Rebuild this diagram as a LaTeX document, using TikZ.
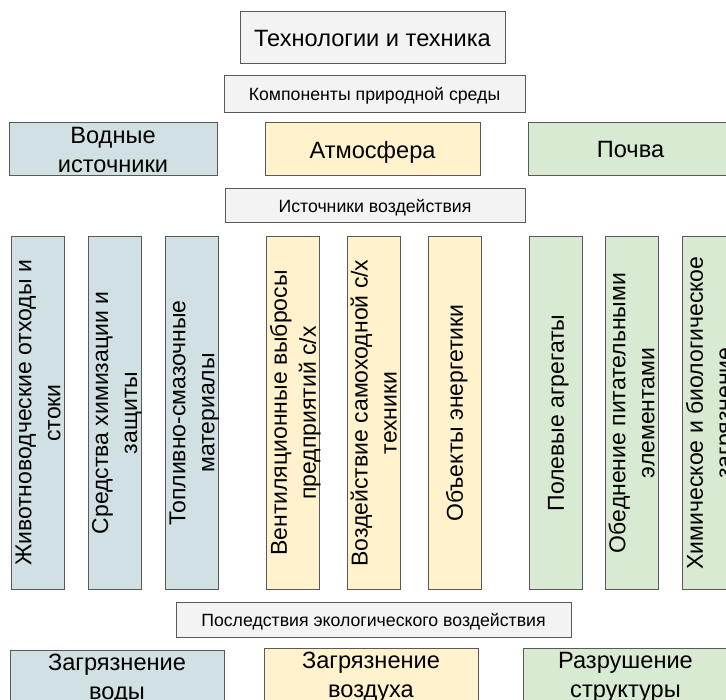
\documentclass[tikz,border=0pt]{standalone}
\usepackage{fontspec}
\setmainfont{Liberation Sans}
\usepackage{tikz}
\definecolor{edgegray}{HTML}{595959}
\definecolor{boxgray}{HTML}{F3F3F3}
\definecolor{waterblue}{HTML}{D0E0E3}
\definecolor{airyellow}{HTML}{FFF2CC}
\definecolor{soilgreen}{HTML}{D9EAD3}
\tikzstyle{bigtext} = [font=\fontsize{23.6}{29}\selectfont]
\tikzstyle{smalltext} = [font=\fontsize{17.7}{21}\selectfont]
\tikzstyle{titlebox} = [fill=boxgray, smalltext]
\tikzstyle{colbox} = [font=\fontsize{23}{29}\selectfont, rotate=90, minimum width=352pt, minimum height=53pt]

\begin{document}
\begin{tikzpicture}[
            x=1pt, y=-1pt,
            every node/.style={draw=edgegray, line width=1pt, inner sep=0pt, text depth=0pt, align=center}
        ]
            \useasboundingbox (0,0) rectangle (726,700);
            % headings
            \node[fill=boxgray, bigtext, minimum width=265pt, minimum height=52pt] (tech) at (372.5,38) {Технологии и техника};
            \node[titlebox, minimum width=301pt, minimum height=37pt] (comp) at (374.5,94) {Компоненты природной среды};
            \node[fill=waterblue, bigtext, minimum width=208pt, minimum height=53pt] (water) at (113,149.5) {Водные\\источники};
            \node[fill=airyellow, bigtext, minimum width=215pt, minimum height=53pt] (air) at (372.5,149.5) {Атмосфера};
            \node[fill=soilgreen, bigtext, minimum width=205pt, minimum height=53pt] (soil) at (630.5,149.5) {Почва};
            \node[titlebox, minimum width=300pt, minimum height=34pt] (src) at (375,206) {Источники воздействия};
            % sources
            \node[colbox, fill=waterblue] (waste) at (38,413) {Животноводческие отходы и\\стоки};
            \node[colbox, fill=waterblue] (chem) at (114.5,413) {Средства химизации и\\защиты};
            \node[colbox, fill=waterblue] (fuel) at (192,413) {Топливно-смазочные\\материалы};
            \node[colbox, fill=airyellow] (vent) at (293,413) {Вентиляционные выбросы\\предприятий с/х};
            \node[colbox, fill=airyellow] (selfprop) at (373.5,413) {Воздействие самоходной с/х\\техники};
            \node[colbox, fill=airyellow] (energy) at (454.5,413) {Объекты энергетики};
            \node[colbox, fill=soilgreen] (field) at (556,413) {Полевые агрегаты};
            \node[colbox, fill=soilgreen] (deplete) at (631.5,413) {Обеднение питательными\\элементами};
            \node[colbox, fill=soilgreen] (biochem) at (709,413) {Химическое и биологическое\\загрязнение};
            % consequences
            \node[titlebox, minimum width=395pt, minimum height=35pt] (result) at (373.5,619.5) {Последствия экологического воздействия};
            \node[fill=waterblue, bigtext, minimum width=214pt, minimum height=53pt] (pwater) at (117,676.5) {Загрязнение\\воды};
            \node[fill=airyellow, bigtext, minimum width=214pt, minimum height=53pt] (pair) at (371,674.5) {Загрязнение\\воздуха};
            \node[fill=soilgreen, bigtext, minimum width=205pt, minimum height=53pt] (psoil) at (625.5,674.5) {Разрушение\\структуры};
        \end{tikzpicture}
\end{document}
